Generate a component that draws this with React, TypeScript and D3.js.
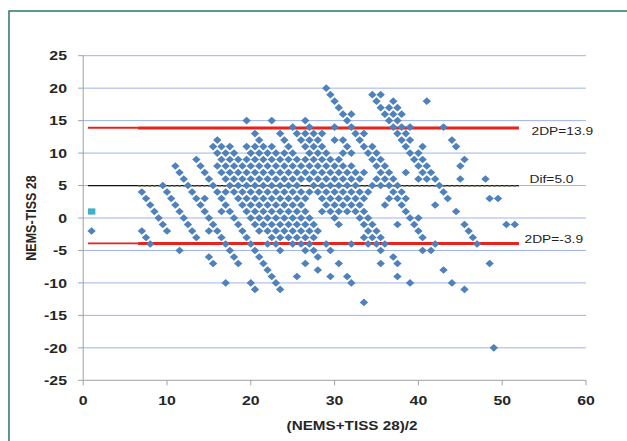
import React from "react";
import * as d3 from "d3";

// Mean (NEMS+TISS 28)/2 columns and their differences (NEMS-TISS 28)
const meanColumns: number[] = [
  1, 7, 7.5, 8, 8.5, 9, 9.5, 10, 10.5, 11, 11.5, 12, 12.5, 13, 13.5, 14, 14.5, 15, 15.5, 16,
  16.5, 17, 17.5, 18, 18.5, 19, 19.5, 20, 20.5, 21, 21.5, 22, 22.5, 23, 23.5, 24, 24.5, 25,
  25.5, 26, 26.5, 27, 27.5, 28, 28.5, 29, 29.5, 30, 30.5, 31, 31.5, 32, 32.5, 33, 33.5, 34,
  34.5, 35, 35.5, 36, 36.5, 37, 37.5, 38, 38.5, 39, 39.5, 40, 40.5, 41, 41.5, 42, 42.5, 43,
  43.5, 44, 44.5, 45, 45.5, 46, 46.5, 47, 48, 48.5, 49, 49.5, 50.5, 51.5,
];
const diffColumns: number[][] = [
  [-2], [4, -2], [3, -3], [2, -4], [1], [0], [5, -1], [4, -2], [3], [8, 2], [7, 1, -5], [6, 0],
  [5, -1], [4, -2], [9, 3, -3], [8, 2], [7, 3, 1], [6, 0, -2, -6], [11, 5, -1, -7],
  [12, 10, 8, 4, -2],
  [11, 9, 7, 3, 1, -3],
  [10, 8, 6, 4, 2, -4, -10],
  [11, 9, 7, 5, 1, -5],
  [10, 8, 6, 4, 0, -6],
  [9, 7, 5, 3, -1, -7],
  [8, 6, 4, 2, -2],
  [15, 11, 9, 7, 5, 3, 1, -3],
  [10, 8, 6, 4, 2, 0, -4, -10],
  [13, 11, 9, 7, 5, 3, 1, -1, -5, -11],
  [12, 10, 8, 6, 4, 2, 0, -2, -6],
  [11, 9, 7, 5, 3, 1, -1, -7],
  [10, 8, 6, 4, 2, 0, -2, -4, -8],
  [15, 11, 9, 7, 5, 3, 1, -1, -3, -9],
  [10, 8, 6, 4, 2, 0, -2, -4, -10],
  [13, 9, 7, 5, 3, 1, -1, -3, -5, -11],
  [12, 10, 8, 6, 4, 2, 0, -2],
  [11, 9, 7, 5, 3, 1, -1, -3],
  [14, 10, 8, 6, 4, 2, 0, -2, -4],
  [13, 9, 7, 5, 3, 1, -1, -3, -9],
  [12, 8, 6, 4, 2, 0, -2, -4],
  [15, 13, 11, 9, 7, 3, 1, -1, -3, -5, -7],
  [14, 12, 10, 8, 6, 4, 0, -2, -4],
  [13, 11, 9, 7, 5, -1, -3, -5],
  [12, 10, 8, 6, 4, -2, -6, -8],
  [13, 11, 9, 7, 5, 3, 1],
  [20, 10, 8, 6, 4, 2, -4],
  [19, 9, 7, 5, 3, 1, -5, -9],
  [18, 14, 12, 8, 6, 4, 2, 0],
  [17, 9, 7, 5, 3, 1, -1, -7],
  [16, 12, 10, 8, 6, 4, 2],
  [15, 11, 7, 5, 3, 1, -9],
  [16, 14, 10, 8, 6, 4, 2, -4, -10],
  [13, 7, 5, 3, 1],
  [12, 6, 4, 2, 0],
  [13, 11, 7, 3, 1, -1, -3, -13],
  [10, 4, 0, -2, -4],
  [19, 11, 9, 5, -1, -3],
  [18, 10, 8, 6, -2, -4],
  [19, 17, 9, 7, 5, -3, -5, -7],
  [16, 8, 6, 2, -4],
  [17, 15, 7, 5, 3],
  [18, 16, 14, 6, 4, -6],
  [17, 15, 13, 5, 3, -1, -7, -9],
  [16, 14, 12, 4, 2],
  [13, 11, 7, 3, 1],
  [14, 12, 10, 0, -10],
  [9, -1],
  [10, 8, 6, 0, -2],
  [11, 9, 7, -3, -5],
  [18, 8, 6],
  [7, -5],
  [6, 2, -4],
  [5],
  [14, 4, -8],
  [3],
  [12, -10],
  [11, 1],
  [8, 6],
  [9, -1, -11],
  [-2], [-3], [-4], [6], [3, -7], [-20], [3], [-1], [-1],
];

// Second series (single square marker)
const squareMean = [1];
const squareDiff = [1];

// Reference lines
const meanDiff = 5.0;
const upperLimit = 13.9;
const lowerLimit = -3.9;
const refStart = 0.57;
const refBreak = 6.55;
const refEnd = 52;

const yTicks = [-25, -20, -15, -10, -5, 0, 5, 10, 15, 20, 25];
const xTicks = [0, 10, 20, 30, 40, 50, 60];

const W = 627;
const H = 441;
const SX = 1.22; // horizontal stretch of the original picture

const x = d3.scaleLinear().domain([0, 60]).range([83.2, 586]);
const y = d3.scaleLinear().domain([-25, 25]).range([380.3, 55.7]);

const points = meanColumns.flatMap((m, i) => diffColumns[i].map((d) => ({ m, d })));

const font = "'Liberation Sans', Arial, sans-serif";

function SText(props: {
  x: number;
  y: number;
  anchor?: string;
  size: number;
  weight?: string | number;
  fill?: string;
  rotate?: number;
  children: React.ReactNode;
}) {
  const { x: tx, y: ty, anchor = "start", size, weight = "normal", fill = "#262626", rotate = 0 } = props;
  return (
    <text
      transform={`translate(${tx},${ty}) scale(${SX},1)${rotate ? ` rotate(${rotate})` : ""}`}
      textAnchor={anchor}
      fontSize={size}
      fontWeight={weight}
      fontFamily={font}
      fill={fill}
    >
      {props.children}
    </text>
  );
}

export default function App() {
  const diamond = (cx: number, cy: number) =>
    `M${cx},${cy - 3.8}L${cx + 4.2},${cy}L${cx},${cy + 3.8}L${cx - 4.2},${cy}Z`;

  return (
    <svg
      width={W}
      height={H}
      style={{ position: "absolute", left: 0, top: 0, background: "#fff" }}
    >
      <rect x={0} y={0} width={W} height={H} fill="#fff" />
      <rect x={9} y={11} width={700} height={500} fill="none" stroke="#2b7566" strokeWidth={1.5} />

      {/* gridlines */}
      {yTicks
        .filter((t) => t !== -25)
        .map((t) => (
          <line key={"g" + t} x1={x(0)} x2={x(60)} y1={y(t)} y2={y(t)} stroke="#9fb3e6" strokeWidth={1} />
        ))}

      {/* axes */}
      <line x1={x(0)} x2={x(0)} y1={y(25)} y2={y(-25)} stroke="#a0a0a0" strokeWidth={1} />
      <line x1={x(0)} x2={x(60)} y1={y(-25)} y2={y(-25)} stroke="#a0a0a0" strokeWidth={1} />
      {yTicks.map((t) => (
        <line key={"yt" + t} x1={x(0) - 5} x2={x(0)} y1={y(t)} y2={y(t)} stroke="#a0a0a0" />
      ))}
      {xTicks.map((t) => (
        <line key={"xt" + t} x1={x(t)} x2={x(t)} y1={y(-25)} y2={y(-25) + 5} stroke="#a0a0a0" />
      ))}

      {/* tick labels */}
      {yTicks.map((t) => (
        <SText key={"yl" + t} x={67} y={y(t) + 4.7} anchor="end" size={13} weight="bold">
          {t}
        </SText>
      ))}
      {xTicks.map((t) => (
        <SText key={"xl" + t} x={x(t)} y={404.5} anchor="middle" size={13} weight="bold">
          {t}
        </SText>
      ))}

      {/* axis titles */}
      <SText x={352} y={429.5} anchor="middle" size={12.5} weight="bold">
        (NEMS+TISS 28)/2
      </SText>
      <SText x={35.5} y={218} anchor="middle" size={12.5} weight="bold" rotate={-90}>
        NEMS-TISS 28
      </SText>

      {/* reference lines */}
      {[upperLimit, lowerLimit].map((v) => (
        <g key={"r" + v}>
          <line x1={x(refStart)} x2={x(refBreak)} y1={y(v)} y2={y(v)} stroke="#e8231c" strokeWidth={1.8} />
          <line x1={x(refBreak)} x2={x(refEnd)} y1={y(v) + 0.3} y2={y(v) + 0.3} stroke="#e8231c" strokeWidth={3} />
        </g>
      ))}
      <line x1={x(refStart)} x2={x(refEnd)} y1={y(meanDiff)} y2={y(meanDiff)} stroke="#111" strokeWidth={1.2} />
      <line
        x1={x(refBreak)}
        x2={x(refEnd)}
        y1={y(meanDiff) + 0.4}
        y2={y(meanDiff) + 0.4}
        stroke="#5e5e3c"
        strokeWidth={1.8}
        strokeDasharray="3 2"
        opacity={0.8}
      />

      {/* points */}
      {points.map((p, i) => (
        <path key={"p" + i} d={diamond(x(p.m), y(p.d))} fill="#4f81bd" />
      ))}
      {squareMean.map((m, i) => (
        <rect key={"s" + i} x={x(m) - 3.6} y={y(squareDiff[i]) - 3.1} width={7.4} height={6.2} fill="#3fb0c9" />
      ))}

      {/* labels */}
      <SText x={531.5} y={135} size={11.3} fill="#1e1e1e">
        2DP=13.9
      </SText>
      <SText x={529.5} y={183} size={11.3} fill="#1e1e1e">
        Dif=5.0
      </SText>
      <SText x={524.5} y={243} size={11.3} fill="#1e1e1e">
        2DP=-3.9
      </SText>
    </svg>
  );
}
